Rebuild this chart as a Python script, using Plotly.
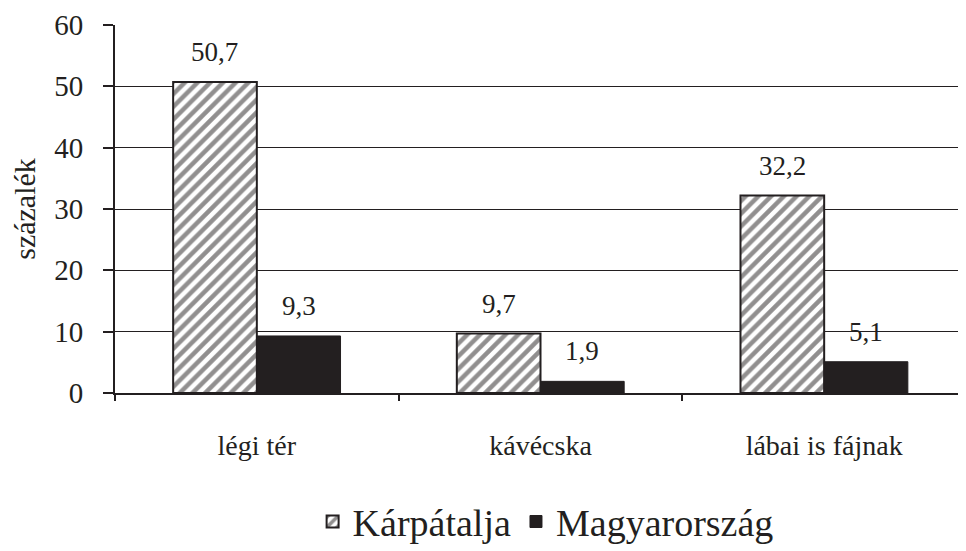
import plotly.graph_objects as go

categories = ["légi tér", "kávécska", "lábai is fájnak"]
karpatalja = [50.7, 9.7, 32.2]
magyarorszag = [9.3, 1.9, 5.1]
labels_k = ["50,7", "9,7", "32,2"]
labels_m = ["9,3", "1,9", "5,1"]
y_ticks = [0, 10, 20, 30, 40, 50, 60]

INK = "#231f20"
FONT = "Liberation Serif, Times New Roman, serif"

W, H = 958, 543
ML, MR, MT, MB = 107, 0, 17, 158
BARGAP = 0.41
cat_w = (W - ML - MR) / len(categories)
bar_w = cat_w * (1 - BARGAP) / 2

fig = go.Figure()
fig.add_trace(go.Bar(
    name="Kárpátalja", x=categories, y=karpatalja,
    marker=dict(color="white", line=dict(color=INK, width=2),
                pattern=dict(shape="/", fgcolor=INK, bgcolor="white", size=9, solidity=0.5)),
))
fig.add_trace(go.Bar(
    name="Magyarország", x=categories, y=magyarorszag,
    marker=dict(color=INK, line=dict(color=INK, width=1)),
))

for i, c in enumerate(categories):
    fig.add_annotation(x=c, y=karpatalja[i], text=labels_k[i], showarrow=False,
                       xshift=-bar_w / 2, yshift=13, yanchor="bottom",
                       font=dict(family=FONT, size=27, color=INK))
    fig.add_annotation(x=c, y=magyarorszag[i], text=labels_m[i], showarrow=False,
                       xshift=bar_w / 2, yshift=13, yanchor="bottom",
                       font=dict(family=FONT, size=27, color=INK))

fig.update_layout(
    width=W, height=H,
    margin=dict(l=ML, r=MR, t=MT, b=MB, autoexpand=False),
    barmode="group", bargap=BARGAP, bargroupgap=0,
    plot_bgcolor="white", paper_bgcolor="white",
    font=dict(family=FONT, color=INK),
    showlegend=True,
    legend=dict(orientation="h", x=0.506, xanchor="center", y=-0.35, yanchor="middle",
                font=dict(family=FONT, size=38, color=INK), itemwidth=30,
                traceorder="normal"),
)
fig.update_yaxes(
    range=[0, 60], tickvals=y_ticks, ticktext=[str(v) for v in y_ticks],
    showgrid=True, gridcolor=INK, gridwidth=1,
    showline=True, linecolor=INK, linewidth=2,
    ticks="outside", ticklen=10, tickcolor=INK, tickwidth=1.5,
    ticklabelstandoff=14, ticklabeloverflow="allow",
    tickfont=dict(family=FONT, size=29, color=INK),
    title=dict(text="százalék", font=dict(family=FONT, size=30, color=INK), standoff=18),
    zeroline=False, fixedrange=True,
)
fig.update_xaxes(
    showline=True, linecolor=INK, linewidth=2,
    ticks="outside", tickson="boundaries", ticklen=6, tickcolor=INK, tickwidth=1.5,
    ticklabelstandoff=26,
    tickfont=dict(family=FONT, size=28, color=INK),
    showgrid=False,
)

fig.write_html("out.html")
